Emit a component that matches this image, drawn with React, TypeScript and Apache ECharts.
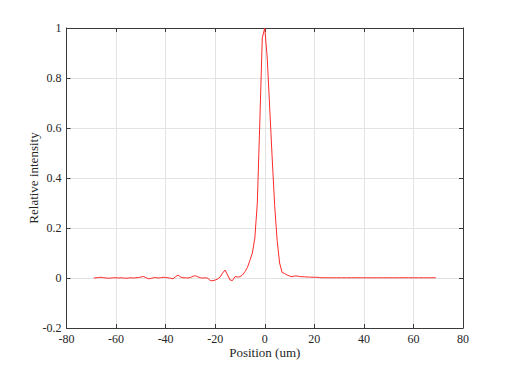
import React, { useEffect, useRef } from "react";
import * as echarts from "echarts";

const positions: number[] = [];
for (let p = -69; p <= 69; p++) positions.push(p);

const intensityLeft = [
  0.0, 0.001, 0.002, 0.003, 0.001, 0.0, -0.001, 0.0, 0.001, 0.001,
  0.0, 0.001, 0.0, -0.001, 0.0, 0.001, 0.0, 0.001, 0.002, 0.004,
  0.006, 0.002, -0.003, -0.002, 0.001, 0.002, 0.0, 0.001, 0.003, 0.002,
  0.001, -0.001, -0.003, 0.005, 0.012, 0.004, 0.001, 0.001, 0.0, 0.002,
  0.007, 0.009, 0.005, 0.001, 0.0, 0.001, -0.001, -0.01, -0.011, -0.008,
  -0.004, 0.004, 0.02, 0.032, 0.012, -0.008, -0.01, 0.006, 0.004, 0.005,
  0.012, 0.025, 0.042, 0.07, 0.1, 0.16, 0.3, 0.62, 0.96,
];
const intensityPeak = [1.0];
const intensityRight = [
  0.88, 0.68, 0.48, 0.29, 0.15, 0.06, 0.022, 0.018, 0.012, 0.008,
  0.005, 0.008, 0.008, 0.006, 0.005, 0.005, 0.004, 0.004, 0.003, 0.003,
  0.003, 0.002, 0.001, 0.001, 0.001, 0.001, 0.001, 0.001, 0.001, 0.001,
  0.001, 0.001, 0.001, 0.001, 0.001, 0.001, 0.001, 0.001, 0.001, 0.001,
  0.001, 0.001, 0.001, 0.001, 0.001, 0.001, 0.001, 0.001, 0.001, 0.001,
  0.001, 0.001, 0.001, 0.001, 0.001, 0.001, 0.001, 0.001, 0.001, 0.001,
  0.001, 0.001, 0.001, 0.001, 0.001, 0.001, 0.001, 0.001, 0.001,
];
const intensity = [...intensityLeft, ...intensityPeak, ...intensityRight];

const xName = "Position (um)";
const yName = "Relative intensity";

const FONT = "Liberation Serif";
const AXIS_COLOR = "#3a3a3a";
const TEXT_COLOR = "#262626";

export default function App() {
  const ref = useRef<HTMLDivElement>(null);
  useEffect(() => {
    if (!ref.current) return;
    const chart = echarts.init(ref.current, undefined, { renderer: "svg" });
    const data = positions.map((p, i) => [p, intensity[i]]);
    const baseLine = { show: true, onZero: false, lineStyle: { color: AXIS_COLOR, width: 1 } };
    const tick = { show: true, inside: true, length: 4, lineStyle: { color: AXIS_COLOR } };
    chart.setOption({
      animation: false,
      backgroundColor: "#ffffff",
      textStyle: { fontFamily: FONT },
      grid: { left: 66.5, right: 49, top: 28, bottom: 41 },
      xAxis: [
        {
          type: "value",
          min: -80,
          max: 80,
          interval: 20,
          axisLine: baseLine,
          axisTick: tick,
          axisLabel: { color: TEXT_COLOR, fontFamily: FONT, fontSize: 12, margin: 5 },
          splitLine: { show: true, lineStyle: { color: "#e3e3e3", width: 1 } },
          name: xName,
          nameLocation: "middle",
          nameGap: 18,
          nameMoveOverlap: false,
          nameTextStyle: { color: TEXT_COLOR, fontFamily: FONT, fontSize: 13 },
        },
        {
          type: "value",
          position: "top",
          min: -80,
          max: 80,
          interval: 20,
          axisLine: baseLine,
          axisTick: tick,
          axisLabel: { show: false },
          splitLine: { show: false },
        },
      ],
      yAxis: [
        {
          type: "value",
          min: -0.2,
          max: 1,
          interval: 0.2,
          axisLine: baseLine,
          axisTick: tick,
          axisLabel: { color: TEXT_COLOR, fontFamily: FONT, fontSize: 12, margin: 5 },
          splitLine: { show: true, lineStyle: { color: "#e3e3e3", width: 1 } },
          name: yName,
          nameLocation: "middle",
          nameGap: 26.5,
          nameMoveOverlap: false,
          nameTextStyle: { color: TEXT_COLOR, fontFamily: FONT, fontSize: 13 },
        },
        {
          type: "value",
          position: "right",
          min: -0.2,
          max: 1,
          interval: 0.2,
          axisLine: baseLine,
          axisTick: tick,
          axisLabel: { show: false },
          splitLine: { show: false },
        },
      ],
      series: [
        {
          type: "line",
          xAxisIndex: 0,
          yAxisIndex: 0,
          data,
          showSymbol: false,
          symbol: "none",
          lineStyle: { color: "#ff2a2a", width: 1 },
        },
      ],
    });
    return () => chart.dispose();
  }, []);
  return <div ref={ref} style={{ width: 512, height: 369, position: "absolute", left: 0, top: 0 }} />;
}
